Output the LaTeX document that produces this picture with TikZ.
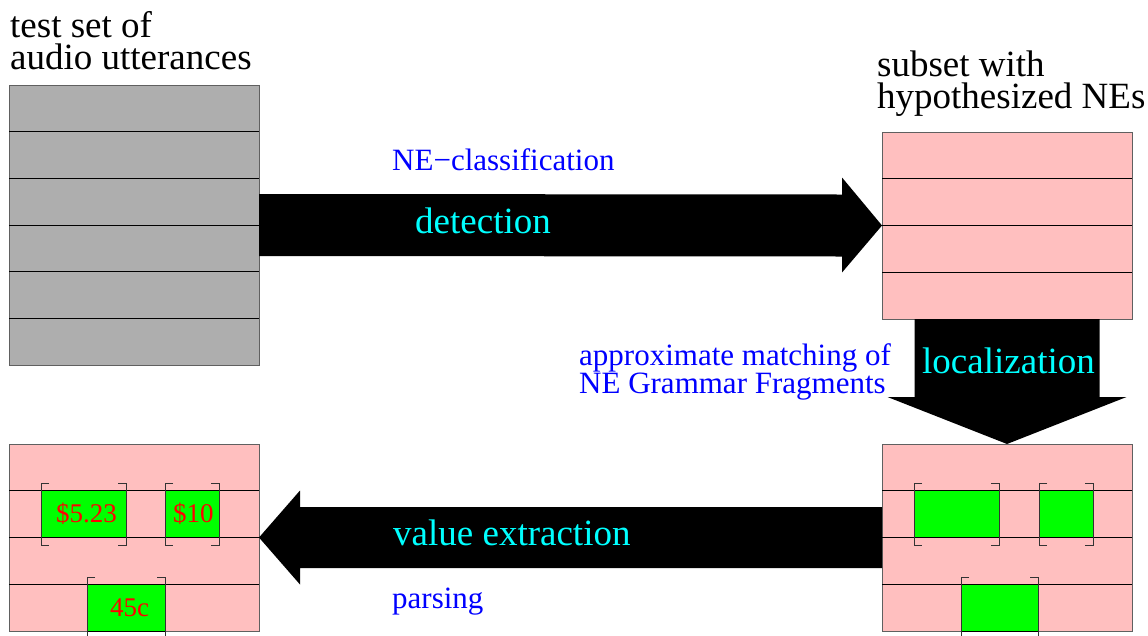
\documentclass[tikz,border=0pt]{standalone}
\usepackage{fontspec}
\setmainfont{Liberation Serif}
\usetikzlibrary{calc}
\definecolor{uttgray}{HTML}{AEAEAE}
\definecolor{nepink}{HTML}{FFBFBF}
\definecolor{slotgreen}{HTML}{00FF00}
\definecolor{framegray}{HTML}{606060}
\definecolor{stagecyan}{RGB}{0,255,255}
\definecolor{noteblue}{RGB}{0,0,255}
\definecolor{amountred}{RGB}{255,0,0}

\begin{document}
\begin{tikzpicture}[x=1pt,y=1pt,
  stack/.style={draw=framegray, line width=1pt, minimum width=250, minimum height=#1,
                inner sep=0, outer sep=0, anchor=north west},
  rowline/.style={draw=black, line width=0.9pt},
  slot/.style={draw=black, fill=slotgreen, line width=0.9pt, minimum width=#1,
               minimum height=46.75, inner sep=0, outer sep=0, anchor=north west},
  bracket/.style={draw=black!80, line width=0.9pt},
  blockarrow/.style={fill=black, draw=none},
  title/.style={font=\fontsize{37}{32}\selectfont, align=left, anchor=base west, inner sep=0},
  note/.style={font=\fontsize{31}{28}\selectfont, text=noteblue, align=left, anchor=base west, inner sep=0},
  stagelabel/.style={font=\fontsize{37}{37}\selectfont, text=stagecyan, anchor=base west, inner sep=0},
  amount/.style={font=\fontsize{27}{27}\selectfont, text=amountred, anchor=base west, inner sep=0}
]
\useasboundingbox (0,0) rectangle (1148,-635);
\clip (0,0) rectangle (1148,-635);

% the four stacks of utterances
\node[stack=280, fill=uttgray] (utt) at (9,-85) {};
\node[stack=187, fill=nepink]  (sub) at (882,-132) {};
\node[stack=187, fill=nepink]  (hyp) at (882,-444) {};
\node[stack=187, fill=nepink]  (val) at (9,-444) {};

\foreach \k in {1,...,5}
  \draw[rowline] ($(utt.north west)!\k/6!(utt.south west)$) -- ($(utt.north east)!\k/6!(utt.south east)$);
\foreach \b in {sub,hyp,val}
  \foreach \k in {1,2,3}
    \draw[rowline] ($(\b.north west)!\k/4!(\b.south west)$) -- ($(\b.north east)!\k/4!(\b.south east)$);

% located NE fragments
\node[slot=85] (h1) at ($(hyp.north west)+(32,-46.75)$) {};
\node[slot=54] (h2) at ($(hyp.north west)+(157,-46.75)$) {};
\node[slot=77] (h3) at ($(hyp.north west)+(79,-140.25)$) {};
\node[slot=85] (v1) at ($(val.north west)+(32,-46.75)$) {};
\node[slot=54] (v2) at ($(val.north west)+(156,-46.75)$) {};
\node[slot=78] (v3) at ($(val.north west)+(78,-140.25)$) {};

\foreach \s in {h1,h2,h3,v1,v2,v3}{
  \draw[bracket] ($(\s.north west)+(8,7)$) -- ++(-8,0) -- ($(\s.south west)+(0,-8)$) -- ++(8,0);
  \draw[bracket] ($(\s.north east)+(-8,7)$) -- ++(8,0) -- ($(\s.south east)+(0,-8)$) -- ++(-8,0);
}

% extracted values
\node[amount] (a1) at (56,-522) {\$5.23};
\node[amount] (a2) at (173,-522) {\$10};
\node[amount] (a3) at (110,-616) {45c};

% processing stages as block arrows
\fill[blockarrow] ($(utt.east)+(0,31)$) -- ($(sub.west)+(-40,31)$) -- ($(sub.west)+(-40,48)$)
  -- (sub.west) -- ($(sub.west)+(-40,-47)$) -- ($(sub.west)+(-40,-31)$)
  -- ($(utt.east)+(0,-31)$) -- cycle;
\fill[blockarrow] ($(sub.south)+(-92.5,0)$) -- ($(hyp.north)+(-92.5,47)$) -- ($(hyp.north)+(-119.5,47)$)
  -- (hyp.north) -- ($(hyp.north)+(119.5,47)$) -- ($(hyp.north)+(92.5,47)$)
  -- ($(sub.south)+(92.5,0)$) -- cycle;
\fill[blockarrow] ($(hyp.west)+(0,30.5)$) -- ($(val.east)+(41,30.5)$) -- ($(val.east)+(41,47)$)
  -- (val.east) -- ($(val.east)+(41,-47)$) -- ($(val.east)+(41,-30.5)$)
  -- ($(hyp.west)+(0,-30.5)$) -- cycle;

% captions (anchored on the baseline of their last line)
\node[title] (t1) at (10,-69) {test set of\\audio utterances};
\node[title] (t2) at (877,-108) {subset with\\hypothesized NEs};

\node[note] (n1) at (392,-170) {NE−classification};
\node[note] (n2) at (579,-393) {approximate matching of\\NE Grammar Fragments};
\node[note] (n3) at (392,-608) {parsing};

\node[stagelabel] (s1) at (415,-233) {detection};
\node[stagelabel] (s2) at (922,-373) {localization};
\node[stagelabel] (s3) at (393,-545) {value extraction};
\end{tikzpicture}
\end{document}
